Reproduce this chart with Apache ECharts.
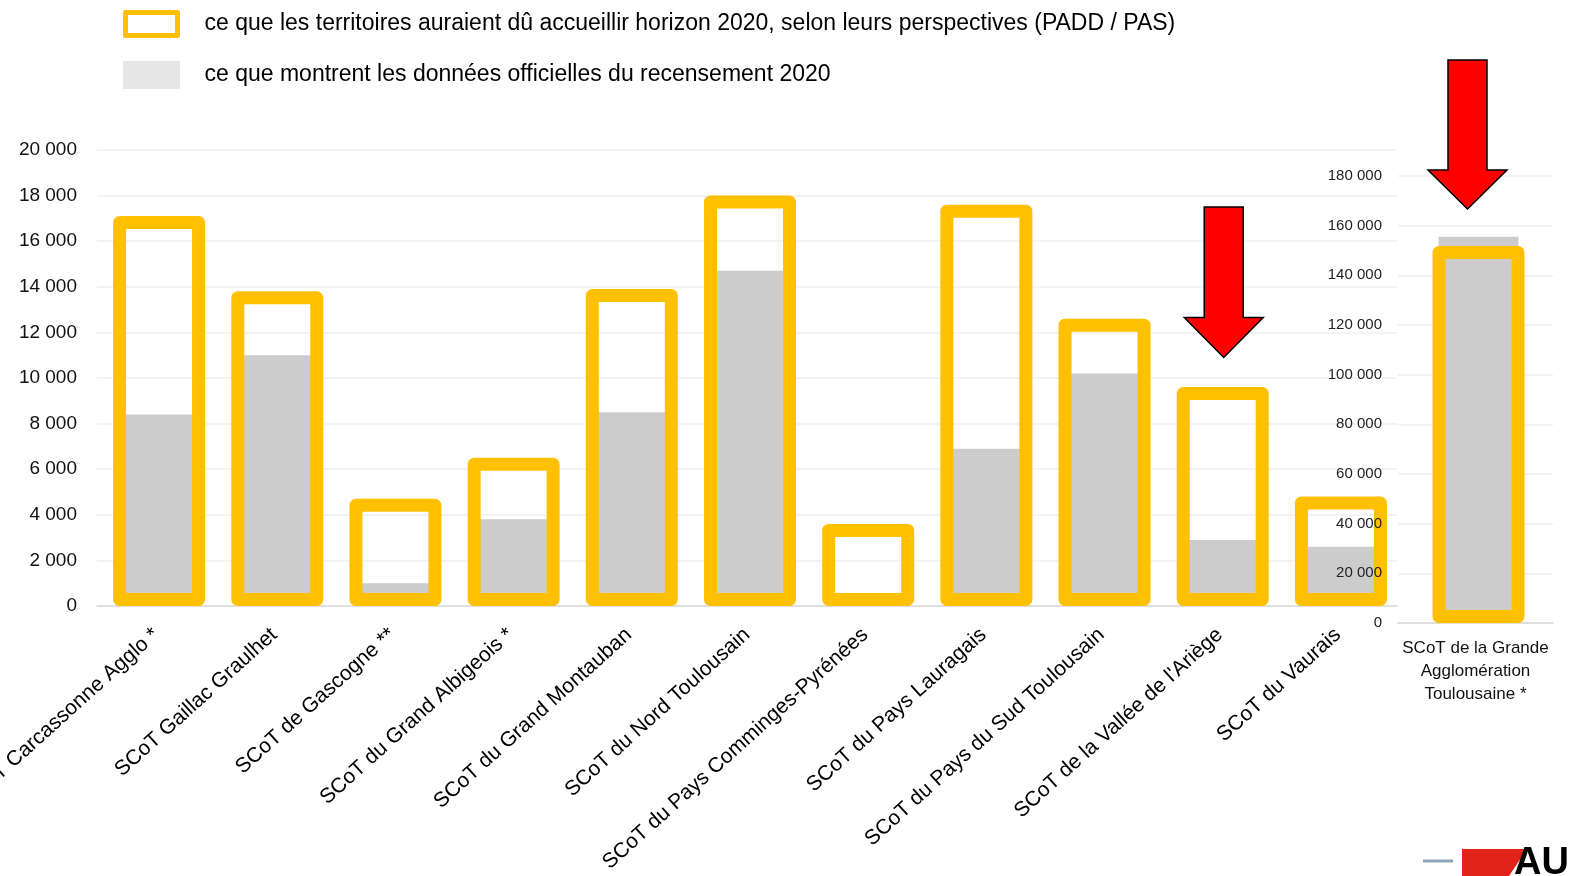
<!DOCTYPE html>
<html><head><meta charset="utf-8">
<script src="https://cdn.jsdelivr.net/npm/echarts@6/dist/echarts.min.js"></script>
<style>html,body{margin:0;padding:0;background:#fff}#c{width:1570px;height:876px}</style>
</head><body><div id="c"></div>
<script>
// ---- data ----
const categories = ["SCoT Carcassonne Agglo *","SCoT Gaillac Graulhet","SCoT de Gascogne **","SCoT du Grand Albigeois *","SCoT du Grand Montauban","SCoT du Nord Toulousain","SCoT du Pays Comminges-Pyrénées","SCoT du Pays Lauragais","SCoT du Pays du Sud Toulousain","SCoT de la Vallée de l'Ariège","SCoT du Vaurais"];
const expected = [17100,13800,4700,6500,13900,18000,3600,17600,12600,9600,4800];
const observed = [8400,11000,1000,3800,8500,14700,0,6900,10200,2900,2600];
const bigCategory = ["SCoT de la Grande\nAgglomération\nToulousaine *"];
const bigExpected = [151800];
const bigObserved = [155500];
const leftAxis = {min:0, max:20000, interval:2000};
const rightAxis = {min:0, max:180000, interval:20000};
const nameExpected = "ce que les territoires auraient dû accueillir horizon 2020, selon leurs perspectives (PADD / PAS)";
const nameObserved = "ce que montrent les données officielles du recensement 2020";

const FONT = "'Liberation Sans', Arial, sans-serif";
const YELLOW = '#FFC000', GREY = '#CCCCCC';
const fmt = v => String(v).replace(/\B(?=(\d{3})+(?!\d))/g, ' ');
const W_OUT = 92, W_IN = 80;
// gap that centres the narrower grey bar on the wider outlined bar
const gap = ((W_OUT - W_IN) / 2 / W_OUT - 1) * 100 + '%';

const chart = echarts.init(document.getElementById('c'), null, {renderer:'canvas'});
const yellowStyle = {color:'rgba(0,0,0,0)', borderColor:YELLOW, borderWidth:13, borderJoin:'round'};
const option = {
  backgroundColor:'#fff',
  animation:false,
  textStyle:{fontFamily:FONT},
  legend:{
    orient:'vertical', left:123, top:10, itemWidth:52, itemHeight:23, itemGap:23, icon:'rect',
    selectedMode:false, padding:0,
    textStyle:{fontSize:23, color:'#000', fontFamily:FONT, padding:[0,0,0,22]},
    data:[
      {name:nameExpected, itemStyle:{color:'#fff', borderColor:YELLOW, borderWidth:5}},
      {name:nameObserved, itemStyle:{color:'#E6E6E6', borderColor:'#E6E6E6', borderWidth:5}}
    ]
  },
  grid:[
    {left:97, right:173, top:150, bottom:270, outerBoundsMode:'none', containLabel:false},
    {left:1398, right:17, top:176, bottom:253, outerBoundsMode:'none', containLabel:false}
  ],
  xAxis:[
    {type:'category', gridIndex:0, data:categories,
     axisTick:{show:false}, axisLine:{lineStyle:{color:'#D9D9D9', width:1.5}},
     axisLabel:{rotate:42, interval:0, fontSize:21, color:'#000', margin:26, fontFamily:FONT}},
    {type:'category', gridIndex:1, data:bigCategory,
     axisTick:{show:false}, axisLine:{lineStyle:{color:'#D9D9D9', width:1.5}},
     axisLabel:{interval:0, fontSize:17, lineHeight:23, color:'#111', margin:14, fontFamily:FONT}}
  ],
  yAxis:[
    {type:'value', gridIndex:0, position:'left', min:leftAxis.min, max:leftAxis.max, interval:leftAxis.interval,
     axisLine:{show:false}, axisTick:{show:false},
     splitLine:{lineStyle:{color:'#EFEFEF', width:1.5}},
     axisLabel:{fontSize:19, color:'#111', margin:20, formatter:fmt, fontFamily:FONT}},
    {type:'value', gridIndex:1, position:'left', min:rightAxis.min, max:rightAxis.max, interval:rightAxis.interval,
     axisLine:{show:false}, axisTick:{show:false},
     splitLine:{lineStyle:{color:'#EFEFEF', width:1.5}},
     axisLabel:{show:false}},
    // label-only copy of the right axis, drawn above the neighbouring bar
    {type:'value', gridIndex:1, position:'left', offset:0, min:rightAxis.min, max:rightAxis.max, interval:rightAxis.interval, z:10,
     axisLine:{show:false}, axisTick:{show:false}, splitLine:{show:false},
     axisLabel:{fontSize:15, color:'#222', margin:16, formatter:fmt, fontFamily:FONT}}
  ],
  series:[
    {name:nameExpected, type:'bar', xAxisIndex:0, yAxisIndex:0, data:expected, barWidth:W_OUT, barGap:gap, z:3,
     itemStyle:yellowStyle},
    {name:nameObserved, type:'bar', xAxisIndex:0, yAxisIndex:0, data:observed, barWidth:W_IN, z:2,
     itemStyle:{color:GREY}},
    {name:nameExpected, type:'bar', xAxisIndex:1, yAxisIndex:1, data:bigExpected, barWidth:W_OUT, barGap:gap, z:3,
     itemStyle:yellowStyle},
    {name:nameObserved, type:'bar', xAxisIndex:1, yAxisIndex:1, data:bigObserved, barWidth:W_IN, z:2,
     itemStyle:{color:GREY}}
  ]
};
chart.setOption(option);

// ---- annotation arrows, anchored to the axes ----
const arrows = [
  {grid:0, cat:9, top:17500, head:12650, tip:10900, dx:4},
  {grid:1, cat:0, top:226700, head:182400, tip:166700, dx:-8}
];
const elements = arrows.map(a => {
  const pTop = chart.convertToPixel({gridIndex:a.grid}, [a.cat, a.top]);
  const pHead = chart.convertToPixel({gridIndex:a.grid}, [a.cat, a.head]);
  const pTip = chart.convertToPixel({gridIndex:a.grid}, [a.cat, a.tip]);
  const cx = pTop[0] + a.dx;
  const sw = 19.5, hw = 39.5;
  return {type:'polygon', z:20, shape:{points:[
    [cx-sw,pTop[1]],[cx+sw,pTop[1]],[cx+sw,pHead[1]],[cx+hw,pHead[1]],[cx,pTip[1]],[cx-hw,pHead[1]],[cx-sw,pHead[1]]
  ]}, style:{fill:'#FF0000', stroke:'#000', lineWidth:1.5}};
});
// logo fragment bottom-right
elements.push({type:'line', shape:{x1:1423,y1:861,x2:1453,y2:861}, style:{stroke:'#8EA4B8', lineWidth:3}});
elements.push({type:'polygon', shape:{points:[[1462,849],[1527,849],[1509,876],[1462,876]]}, style:{fill:'#E2231A'}});
elements.push({type:'text', left:1514, top:845, style:{text:'AU', font:'bold 38px ' + FONT, fill:'#000'}});
chart.setOption({graphic:elements});
</script>
</body></html>
